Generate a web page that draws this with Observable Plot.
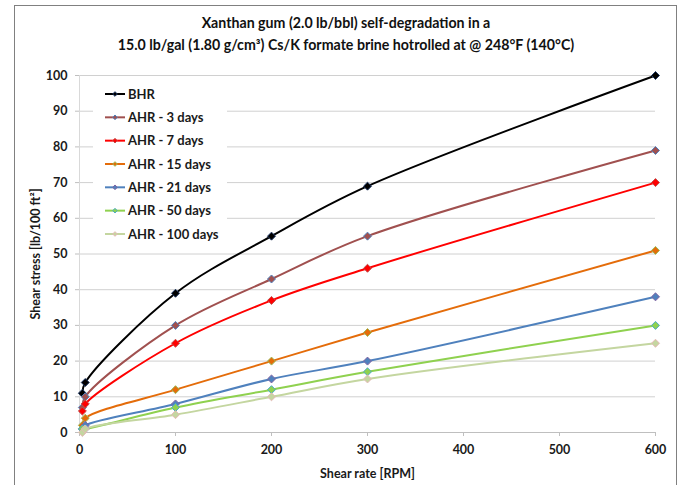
<!DOCTYPE html>
<html><head><meta charset="utf-8">
<script src="https://cdn.jsdelivr.net/npm/d3@7"></script>
<script src="https://cdn.jsdelivr.net/npm/@observablehq/plot@0.6"></script>
<style>
html,body{margin:0;padding:0;background:#fff;overflow:hidden;}
#wrap{position:relative;width:683px;height:485px;font-family:Lato,"Open Sans",sans-serif;overflow:hidden;}
#border{position:absolute;left:14px;top:5px;width:663px;height:495px;border:1px solid #808080;box-sizing:border-box;}
#title{position:absolute;left:14px;width:664px;top:12px;text-align:center;font-weight:bold;font-size:14.2px;line-height:21.5px;color:#111;}
#chart{position:absolute;left:0;top:0;}
#legend{position:absolute;left:93px;top:82px;}
</style></head>
<body>
<div id="wrap">
  <div id="border"></div>
  <div id="chart"></div>
  <div id="title">Xanthan gum (2.0 lb/bbl) self-degradation in a<br>15.0 lb/gal (1.80 g/cm³) Cs/K formate brine hotrolled at @ 248°F (140°C)</div>
  <div id="legend"></div>
</div>
<script>
const rpm = [3, 6, 100, 200, 300, 600];
const seriesNames = ["BHR", "AHR - 3 days", "AHR - 7 days", "AHR - 15 days", "AHR - 21 days", "AHR - 50 days", "AHR - 100 days"];
const bhr    = [11, 14, 39, 55, 69, 100];
const ahr3   = [7, 10, 30, 43, 55, 79];
const ahr7   = [6, 8, 25, 37, 46, 70];
const ahr15  = [2, 4, 12, 20, 28, 51];
const ahr21  = [1, 2, 8, 15, 20, 38];
const ahr50  = [1, 1, 7, 12, 17, 30];
const ahr100 = [0, 1, 5, 10, 15, 25];
const xTicks = [0, 100, 200, 300, 400, 500, 600];
const yTicks = [0, 10, 20, 30, 40, 50, 60, 70, 80, 90, 100];

const lineColors   = ["#000000", "#a0504f", "#ff0000", "#e46c0a", "#4f81bd", "#8fd14f", "#c4d6a0"];
const markerStroke = ["#1f3864", "#4f81bd", "#c0504d", "#9bbb59", "#8064a2", "#4bacc6", "#e6b9b8"];

const allSeries = [bhr, ahr3, ahr7, ahr15, ahr21, ahr50, ahr100];
const data = [];
allSeries.forEach((vals, i) => vals.forEach((v, j) => data.push({
  series: seriesNames[i], x: rpm[j], y: v, color: lineColors[i], mstroke: markerStroke[i]
})));

const chart = Plot.plot({
  width: 683, height: 485,
  marginTop: 75, marginLeft: 79, marginRight: 28, marginBottom: 53,
  style: {fontFamily: "Lato, 'Open Sans', sans-serif", fontSize: "12.5px", fontWeight: "bold", background: "transparent"},
  x: {domain: [0, 600]},
  y: {domain: [0, 100]},
  color: {type: "identity"},
  marks: [
    Plot.gridY(yTicks, {stroke: "#d0d0d0", strokeOpacity: 1}),
    Plot.ruleX([0], {stroke: "#d9d9d9"}),
    Plot.ruleY([0], {stroke: "#bfbfbf"}),
    Plot.axisX(xTicks, {tickSize: 4, tickPadding: 9, stroke: "#bfbfbf", fill: "#1a1a1a",
      label: "Shear rate [RPM]", labelAnchor: "center", labelOffset: 45, labelArrow: "none"}),
    Plot.axisY(yTicks, {tickSize: 4, tickPadding: 8, stroke: "#bfbfbf", fill: "#1a1a1a",
      label: "Shear stress [lb/100 ft²]", labelAnchor: "center", labelOffset: 48, labelArrow: "none"}),
    Plot.line(data, {x: "x", y: "y", z: "series", stroke: "color", strokeWidth: 2, curve: "catmull-rom"}),
    Plot.dot(data, {x: "x", y: "y", symbol: "diamond2", r: 3.6, fill: "color", stroke: "mstroke", strokeWidth: 1})
  ]
});
document.getElementById("chart").appendChild(chart);

// legend
const lg = d3.select("#legend").append("svg").attr("width", 134).attr("height", 164);
lg.append("rect").attr("width", 134).attr("height", 164).attr("fill", "#fff");
seriesNames.forEach((name, i) => {
  const cy = 12 + i * 23.33;
  const g = lg.append("g");
  g.append("line").attr("x1", 12).attr("x2", 32).attr("y1", cy).attr("y2", cy)
    .attr("stroke", lineColors[i]).attr("stroke-width", 2);
  g.append("path").attr("d", d3.symbol(d3.symbolDiamond2, 14)())
    .attr("transform", `translate(22,${cy})`).attr("fill", lineColors[i]).attr("stroke", markerStroke[i]);
  g.append("text").attr("x", 35).attr("y", cy).attr("dy", "0.35em")
    .attr("font-family", "Lato, 'Open Sans', sans-serif").attr("font-size", 13).attr("font-weight", "bold")
    .attr("fill", "#1a1a1a").text(name);
});
</script>
</body></html>
